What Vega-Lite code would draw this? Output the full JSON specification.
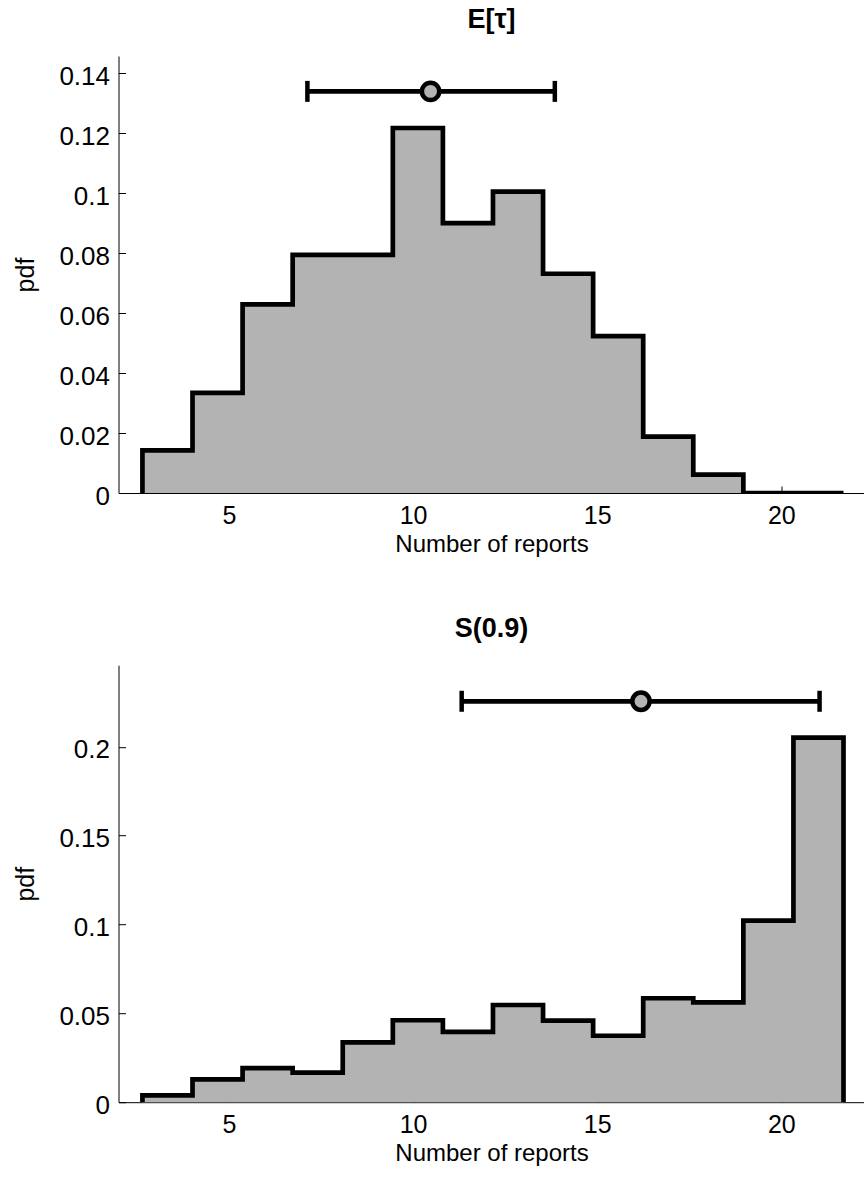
{
  "$schema": "https://vega.github.io/schema/vega-lite/v6.json",
  "autosize": {"type": "pad"},
  "padding": {"left": 13.5, "top": 6, "right": 0, "bottom": 0},
  "background": "white",
  "config": {
    "font": "Liberation Sans",
    "view": {"stroke": null},
    "axis": {
      "grid": false,
      "domainColor": "black",
      "domainWidth": 1,
      "tickColor": "black",
      "tickWidth": 1,
      "tickSize": -7,
      "labelFont": "Liberation Sans",
      "labelColor": "black",
      "titleFont": "Liberation Sans",
      "titleFontWeight": "normal",
      "titleColor": "black"
    },
    "axisX": {
      "labelFontSize": 25,
      "titleFontSize": 24,
      "labelPadding": 37.7,
      "labelBaseline": "alphabetic",
      "titleBaseline": "alphabetic",
      "titleY": 58.7
    },
    "axisY": {
      "labelFontSize": 26,
      "titleFontSize": 25,
      "labelPadding": 16,
      "labelBaseline": "alphabetic",
      "labelOffset": 11,
      "titleX": -85,
      "titleY": 218.5,
      "titleAngle": -90,
      "titleAlign": "center",
      "titleBaseline": "alphabetic"
    },
    "title": {
      "font": "Liberation Sans",
      "fontSize": 27,
      "fontWeight": "bold",
      "color": "black",
      "baseline": "alphabetic",
      "offset": 22,
      "anchor": "middle",
      "frame": "group"
    }
  },
  "datasets": {
    "hist_tau": [
      {"i": 0, "x": 2.65, "pdf": 0},
      {"i": 1, "x": 2.65, "pdf": 0.0142},
      {"i": 2, "x": 4.01, "pdf": 0.0334},
      {"i": 3, "x": 5.37, "pdf": 0.0629},
      {"i": 4, "x": 6.73, "pdf": 0.0794},
      {"i": 5, "x": 8.09, "pdf": 0.0794},
      {"i": 6, "x": 9.45, "pdf": 0.1217},
      {"i": 7, "x": 10.81, "pdf": 0.0900},
      {"i": 8, "x": 12.17, "pdf": 0.1005},
      {"i": 9, "x": 13.53, "pdf": 0.0731},
      {"i": 10, "x": 14.89, "pdf": 0.0523},
      {"i": 11, "x": 16.25, "pdf": 0.0188},
      {"i": 12, "x": 17.61, "pdf": 0.0061},
      {"i": 13, "x": 18.97, "pdf": 0},
      {"i": 14, "x": 20.33, "pdf": 0},
      {"i": 15, "x": 21.69, "pdf": 0}
    ],
    "hist_s": [
      {"i": 0, "x": 2.65, "pdf": 0},
      {"i": 1, "x": 2.65, "pdf": 0.0038},
      {"i": 2, "x": 4.01, "pdf": 0.0128},
      {"i": 3, "x": 5.37, "pdf": 0.0192},
      {"i": 4, "x": 6.73, "pdf": 0.0166},
      {"i": 5, "x": 8.09, "pdf": 0.0337},
      {"i": 6, "x": 9.45, "pdf": 0.0461},
      {"i": 7, "x": 10.81, "pdf": 0.0396},
      {"i": 8, "x": 12.17, "pdf": 0.0547},
      {"i": 9, "x": 13.53, "pdf": 0.0459},
      {"i": 10, "x": 14.89, "pdf": 0.0374},
      {"i": 11, "x": 16.25, "pdf": 0.0585},
      {"i": 12, "x": 17.61, "pdf": 0.0562},
      {"i": 13, "x": 18.97, "pdf": 0.1022},
      {"i": 14, "x": 20.33, "pdf": 0.2051},
      {"i": 15, "x": 21.69, "pdf": 0}
    ],
    "err_tau": [{"lo": 7.13, "hi": 13.85, "mean": 10.475, "y": 0.1339}],
    "err_s": [{"lo": 11.32, "hi": 21.04, "mean": 16.19, "y": 0.2256}]
  },
  "bounds": "flush",
  "spacing": 172.2,
  "vconcat": [
    {
      "width": 746,
      "height": 437,
      "title": {"text": "E[τ]"},
      "layer": [
        {
          "data": {"name": "hist_tau"},
          "transform": [{"filter": "datum.i > 0"}],
          "mark": {"type": "area", "interpolate": "step-after", "color": "#b3b3b3", "opacity": 1},
          "encoding": {
            "x": {"field": "x", "type": "quantitative", "scale": {"domain": [2, 22.26], "nice": false, "zero": false}, "axis": {"values": [5, 10, 15, 20]}, "title": "Number of reports"},
            "y": {"field": "pdf", "type": "quantitative", "stack": null, "scale": {"domain": [0, 0.1457], "nice": false}, "axis": {"values": [0, 0.02, 0.04, 0.06, 0.08, 0.1, 0.12, 0.14], "format": ".2~f"}, "title": "pdf"}
          }
        },
        {
          "data": {"name": "hist_tau"},
          "mark": {"type": "line", "interpolate": "step-after", "color": "black", "strokeWidth": 4.7, "strokeJoin": "miter", "clip": true},
          "encoding": {
            "x": {"field": "x", "type": "quantitative"},
            "y": {"field": "pdf", "type": "quantitative"},
            "order": {"field": "i", "type": "quantitative"}
          }
        },
        {
          "data": {"name": "err_tau"},
          "mark": {"type": "rule", "color": "black", "strokeWidth": 4.7},
          "encoding": {
            "x": {"field": "lo", "type": "quantitative"},
            "x2": {"field": "hi"},
            "y": {"field": "y", "type": "quantitative"}
          }
        },
        {
          "data": {"name": "err_tau"},
          "mark": {"type": "tick", "orient": "vertical", "color": "black", "size": 21, "thickness": 4.5, "opacity": 1},
          "encoding": {
            "x": {"field": "lo", "type": "quantitative"},
            "y": {"field": "y", "type": "quantitative"}
          }
        },
        {
          "data": {"name": "err_tau"},
          "mark": {"type": "tick", "orient": "vertical", "color": "black", "size": 21, "thickness": 4.5, "opacity": 1},
          "encoding": {
            "x": {"field": "hi", "type": "quantitative"},
            "y": {"field": "y", "type": "quantitative"}
          }
        },
        {
          "data": {"name": "err_tau"},
          "mark": {"type": "point", "shape": "circle", "filled": true, "fill": "#b3b3b3", "stroke": "black", "strokeWidth": 4.5, "size": 300, "opacity": 1},
          "encoding": {
            "x": {"field": "mean", "type": "quantitative"},
            "y": {"field": "y", "type": "quantitative"}
          }
        }
      ]
    },
    {
      "width": 746,
      "height": 437,
      "title": {"text": "S(0.9)"},
      "layer": [
        {
          "data": {"name": "hist_s"},
          "transform": [{"filter": "datum.i > 0"}],
          "mark": {"type": "area", "interpolate": "step-after", "color": "#b3b3b3", "opacity": 1},
          "encoding": {
            "x": {"field": "x", "type": "quantitative", "scale": {"domain": [2, 22.26], "nice": false, "zero": false}, "axis": {"values": [5, 10, 15, 20]}, "title": "Number of reports"},
            "y": {"field": "pdf", "type": "quantitative", "stack": null, "scale": {"domain": [0, 0.2459], "nice": false}, "axis": {"values": [0, 0.05, 0.1, 0.15, 0.2], "format": ".2~f"}, "title": "pdf"}
          }
        },
        {
          "data": {"name": "hist_s"},
          "mark": {"type": "line", "interpolate": "step-after", "color": "black", "strokeWidth": 4.7, "strokeJoin": "miter", "clip": true},
          "encoding": {
            "x": {"field": "x", "type": "quantitative"},
            "y": {"field": "pdf", "type": "quantitative"},
            "order": {"field": "i", "type": "quantitative"}
          }
        },
        {
          "data": {"name": "err_s"},
          "mark": {"type": "rule", "color": "black", "strokeWidth": 4.7},
          "encoding": {
            "x": {"field": "lo", "type": "quantitative"},
            "x2": {"field": "hi"},
            "y": {"field": "y", "type": "quantitative"}
          }
        },
        {
          "data": {"name": "err_s"},
          "mark": {"type": "tick", "orient": "vertical", "color": "black", "size": 21, "thickness": 4.5, "opacity": 1},
          "encoding": {
            "x": {"field": "lo", "type": "quantitative"},
            "y": {"field": "y", "type": "quantitative"}
          }
        },
        {
          "data": {"name": "err_s"},
          "mark": {"type": "tick", "orient": "vertical", "color": "black", "size": 21, "thickness": 4.5, "opacity": 1},
          "encoding": {
            "x": {"field": "hi", "type": "quantitative"},
            "y": {"field": "y", "type": "quantitative"}
          }
        },
        {
          "data": {"name": "err_s"},
          "mark": {"type": "point", "shape": "circle", "filled": true, "fill": "#b3b3b3", "stroke": "black", "strokeWidth": 4.5, "size": 300, "opacity": 1},
          "encoding": {
            "x": {"field": "mean", "type": "quantitative"},
            "y": {"field": "y", "type": "quantitative"}
          }
        }
      ]
    }
  ]
}
